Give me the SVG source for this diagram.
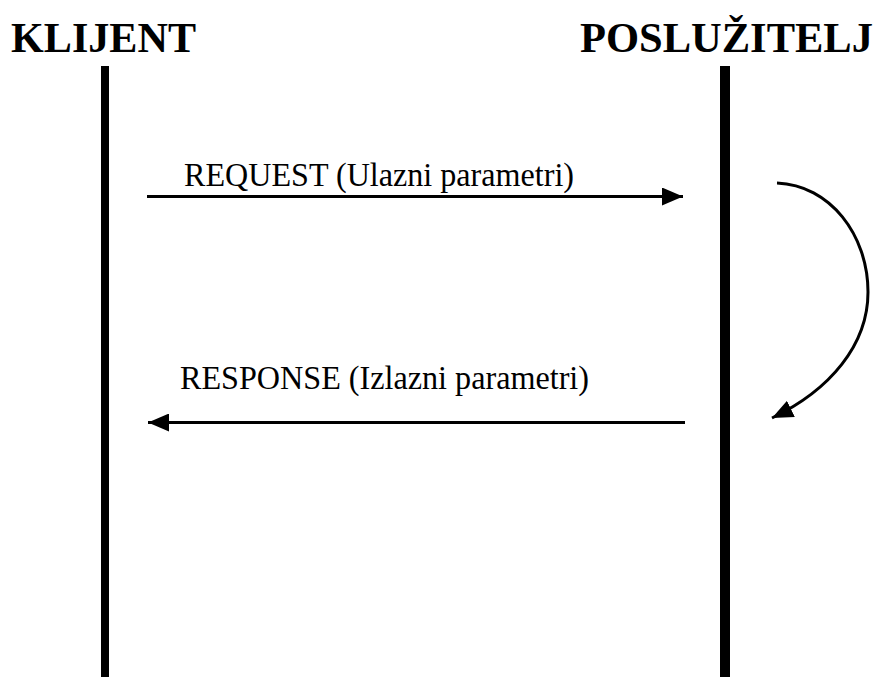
<svg xmlns="http://www.w3.org/2000/svg" width="878" height="677" viewBox="0 0 878 677">
<style>
.title{font-family:"Liberation Serif","Times New Roman",serif;font-weight:bold;font-size:42px;fill:#000}
.lbl{font-family:"Liberation Serif","Times New Roman",serif;font-size:34px;fill:#000}
.msg{stroke:#000;stroke-width:3;fill:none}
</style>
<defs>
<marker id="ah" markerUnits="userSpaceOnUse" markerWidth="22" markerHeight="18" refX="21" refY="9" orient="auto" viewBox="0 0 22 18">
<path d="M0,0 L21,9 L0,18 Z" fill="#000"/>
</marker>
</defs>
<rect width="878" height="677" fill="#fff"/>
<g id="klijent">
<text class="title" x="11" y="52" textLength="185" lengthAdjust="spacingAndGlyphs">KLIJENT</text>
<rect x="101" y="66" width="8" height="611" fill="#000"/>
</g>
<g id="posluzitelj">
<text class="title" x="580" y="52" textLength="293" lengthAdjust="spacingAndGlyphs">POSLUŽITELJ</text>
<rect x="720" y="66" width="10" height="611" fill="#000"/>
</g>
<g id="connectors">
<line class="msg" x1="147" y1="196.5" x2="683" y2="196.5" marker-end="url(#ah)"/>
<text class="lbl" x="184" y="186" textLength="390" lengthAdjust="spacingAndGlyphs">REQUEST (Ulazni parametri)</text>
<line class="msg" x1="685" y1="422.5" x2="148" y2="422.5" marker-end="url(#ah)"/>
<text class="lbl" x="180" y="389" textLength="409" lengthAdjust="spacingAndGlyphs">RESPONSE (Izlazni parametri)</text>
<path class="msg" d="M777,183 C830,185 868,235 868,292 C868,345 830,390 772,418" marker-end="url(#ah)"/>
</g>
</svg>
